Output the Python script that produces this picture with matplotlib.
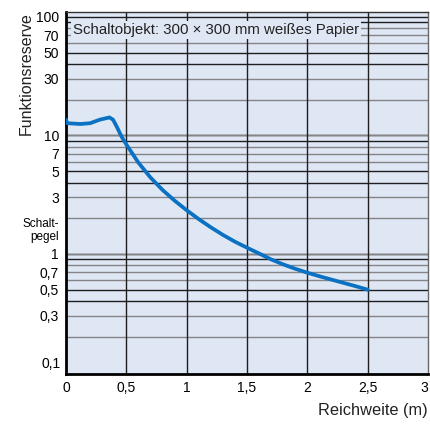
import numpy as np
import matplotlib
matplotlib.use("Agg")
import matplotlib.pyplot as plt
from matplotlib.ticker import FixedLocator, NullLocator

plt.rcParams["font.family"] = ["Liberation Sans", "DejaVu Sans"]

# curve: Reichweite (m) vs Funktionsreserve
dist = [0.0, 0.01, 0.12, 0.20, 0.28, 0.36, 0.39, 0.42, 0.46,
        0.5, 0.6, 0.7, 0.8, 0.9, 1.0, 1.1, 1.2, 1.3, 1.4, 1.5,
        1.6, 1.7, 1.8, 1.9, 2.0, 2.1, 2.2, 2.3, 2.4, 2.5]
reserve = [13.6, 12.7, 12.5, 12.7, 13.6, 14.2, 13.6, 11.9, 9.8,
           8.4, 5.9, 4.42, 3.47, 2.82, 2.34, 1.97, 1.68, 1.45, 1.27, 1.13,
           1.01, 0.90, 0.817, 0.75, 0.695, 0.649, 0.608, 0.57, 0.535, 0.50]

xticks = [0, 0.5, 1, 1.5, 2, 2.5, 3]
xlabels = ["0", "0,5", "1", "1,5", "2", "2,5", "3"]
yticks = [100, 70, 50, 30, 10, 7, 5, 3, 2, 1, 0.7, 0.5, 0.3]
ylabels = ["100", "70", "50", "30", "10", "7", "5", "3", "Schalt-\npegel",
           "1", "0,7", "0,5", "0,3"]

BG = "#dfe7f4"
BLUE = "#0b71c2"
DARK = "#1e1e1e"
GREY = "#858585"

fig = plt.figure(figsize=(4.3, 4.25), dpi=100)
ax = fig.add_axes([66 / 430, 51 / 425, 362 / 430, 362 / 425])
ax.set_facecolor(BG)
ax.set_yscale("log")
ax.set_xlim(0, 3)
ax.set_ylim(0.0971, 110.2)

# grid: 1 and 9, 5 and 4 dark; 8,7,6 and 3,2 grey in every decade
for dec in (0.1, 1, 10):
    for m in range(1, 11):
        if dec == 0.1 and m == 1:
            continue
        c = DARK if m in (10, 9, 5, 4) else GREY
        ax.axhline(dec * m, color=c, lw=1.0, zorder=1)
for xv in xticks[1:-1]:
    ax.axvline(xv, color=DARK, lw=1.0, zorder=1)

ax.plot(dist, reserve, color=BLUE, lw=2.7, solid_capstyle="round",
        solid_joinstyle="round", zorder=3)

ax.set_xticks(xticks)
ax.set_xticklabels(xlabels, fontsize=10)
ax.get_xticklabels()[-1].set_horizontalalignment("right")
ax.yaxis.set_major_locator(FixedLocator(yticks))
ax.yaxis.set_minor_locator(NullLocator())
ax.set_yticklabels(ylabels, fontsize=10)
ax.tick_params(length=0, pad=5)
for lab in ax.get_yticklabels():
    if "Schalt" in lab.get_text():
        lab.set_fontsize(8.5)
        lab.set_verticalalignment("top")
        lab.set_linespacing(1.05)

# the 0,1 label sits a little above the bottom edge in the reference
ax.annotate("0,1", xy=(0, 0.1), xycoords=("axes fraction", "data"),
            xytext=(-3.6, 6), textcoords="offset points", ha="right",
            va="center", fontsize=10)

for s in ("left", "bottom"):
    ax.spines[s].set_linewidth(2.0)
    ax.spines[s].set_color("black")
ax.spines["top"].set_color("#333333")
ax.spines["top"].set_linewidth(1.0)
ax.spines["right"].set_color("#666666")
ax.spines["right"].set_linewidth(1.0)

ax.text(0.019, 0.95, "Schaltobjekt: 300 \u00d7 300 mm wei\u00dfes Papier",
        transform=ax.transAxes, fontsize=10.8, ha="left", va="center",
        color="#222222", zorder=4,
        bbox=dict(facecolor=BG, edgecolor="none", pad=1.2))

fig.text(26 / 430, 1 - 12 / 425, "Funktionsreserve", rotation=90,
         ha="center", va="top", fontsize=11.5, color="#222222")
fig.text(428 / 430, 1 - 411 / 425, "Reichweite (m)", ha="right",
         va="center", fontsize=11.8, color="#222222")

fig.savefig("out.png", dpi=100)
